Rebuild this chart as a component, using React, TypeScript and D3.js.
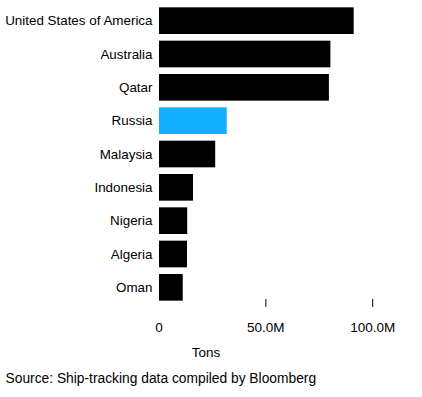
import React from 'react';
import * as d3 from 'd3';

const countries = ['United States of America', 'Australia', 'Qatar', 'Russia', 'Malaysia', 'Indonesia', 'Nigeria', 'Algeria', 'Oman'];
const tons = [91.1e6, 80.2e6, 79.5e6, 31.7e6, 26.3e6, 15.9e6, 13.2e6, 13.1e6, 11.1e6];
const highlight = ['Russia'];
const xTicks = [0, 50e6, 100e6];
const tickLabels = ['0', '50.0M', '100.0M'];

const W = 422;
const H = 397;
const font = "'Liberation Sans', Arial, Helvetica, sans-serif";

export default function App() {
  const x = d3.scaleLinear().domain([0, 100e6]).range([159, 372.7]);
  const y = d3.scaleBand<string>()
    .domain(countries)
    .range([4, 304])
    .paddingInner(0.2)
    .paddingOuter(0.1);

  return (
    <svg width={W} height={H} style={{ position: 'absolute', left: 0, top: 0, background: '#fff' }} fontFamily={font}>
      {countries.map((c, i) => (
        <g key={c}>
          <rect
            x={x(0)}
            y={y(c)}
            width={x(tons[i]) - x(0)}
            height={y.bandwidth()}
            fill={highlight.includes(c) ? '#12b1ff' : '#000'}
          />
          <text
            x={152.5}
            y={(y(c) ?? 0) + y.bandwidth() / 2}
            dy="0.36em"
            textAnchor="end"
            fontSize={13.4}
            fill="#000"
          >
            {c}
          </text>
        </g>
      ))}
      {xTicks.map((t, i) => (
        <g key={t}>
          {t !== 0 && (
            <line x1={x(t)} x2={x(t)} y1={299} y2={307} stroke="#000" strokeWidth={1} />
          )}
          <text x={x(t)} y={332.3} textAnchor="middle" fontSize={13.5} fill="#000">
            {tickLabels[i]}
          </text>
        </g>
      ))}
      <text x={206} y={357} textAnchor="middle" fontSize={13.5} fill="#000">Tons</text>
      <text x={5.5} y={382.5} fontSize={13.8} fill="#000">Source: Ship-tracking data compiled by Bloomberg</text>
    </svg>
  );
}
